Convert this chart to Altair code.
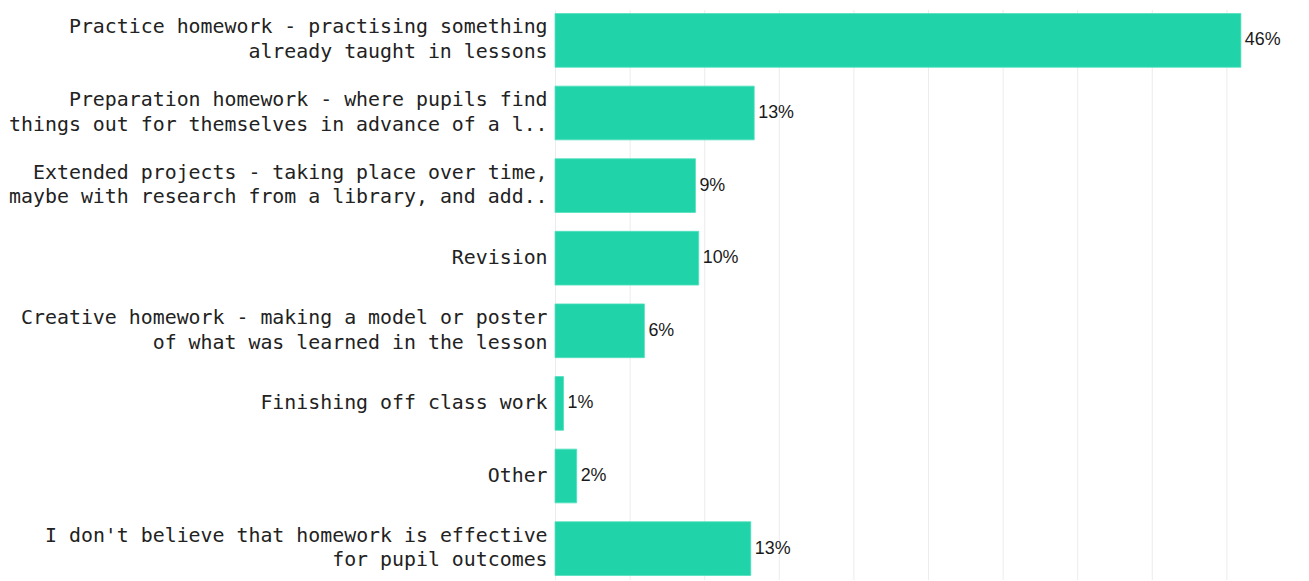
import altair as alt
import pandas as pd

categories = [
    "Practice homework - practising something|already taught in lessons",
    "Preparation homework - where pupils find|things out for themselves in advance of a l..",
    "Extended projects - taking place over time,|maybe with research from a library, and add..",
    "Revision",
    "Creative homework - making a model or poster|of what was learned in the lesson",
    "Finishing off class work",
    "Other",
    "I don't believe that homework is effective|for pupil outcomes",
]
values = [45.97, 13.35, 9.41, 9.63, 5.99, 0.57, 1.45, 13.12]
value_labels = ["46%", "13%", "9%", "10%", "6%", "1%", "2%", "13%"]
grid_values = [0, 5, 10, 15, 20, 25, 30, 35, 40, 45, 50]

df = pd.DataFrame({"cat": categories, "val": values, "lab": value_labels})

y_enc = alt.Y(
    "cat:N",
    sort=categories,
    title=None,
    scale=alt.Scale(paddingInner=0.26, paddingOuter=0.055),
    axis=alt.Axis(
        labelExpr="split(datum.label, '|')",
        labelFont="DejaVu Sans Mono",
        labelFontSize=20,
        labelColor="#222222",
        labelLimit=700,
        labelPadding=8,
        labelLineHeight=25,
        labelBaseline="middle",
        labelOffset={
            "condition": {"test": "indexof(datum.value, '|') >= 0", "value": -13},
            "value": 0,
        },
        ticks=False,
        domain=False,
        grid=False,
    ),
)

x_enc = alt.X(
    "val:Q",
    title=None,
    scale=alt.Scale(domain=[0, 50], nice=False),
    axis=alt.Axis(
        values=grid_values,
        labels=False,
        ticks=False,
        domain=False,
        grid=True,
        gridColor="#ececec",
        gridWidth=1,
    ),
)

bars = alt.Chart(df).mark_bar(color="#20D3A8", stroke="#4fe0bd", strokeWidth=0.8).encode(
    x=x_enc, y=y_enc
)

text = alt.Chart(df).mark_text(
    align="left",
    baseline="middle",
    dx=4,
    font="Liberation Sans",
    fontSize=18,
    color="#1a1a1a",
).encode(
    x=alt.X("val:Q"),
    y=alt.Y("cat:N", sort=categories),
    text="lab:N",
)

chart = (
    alt.layer(bars, text)
    .properties(
        width=750,
        height=573,
        padding={"left": 0, "top": 0, "right": 0, "bottom": 0},
        background="white",
    )
    .configure_view(stroke=None)
)

chart.save("out.html", embed_options={"renderer": "svg", "actions": False})
